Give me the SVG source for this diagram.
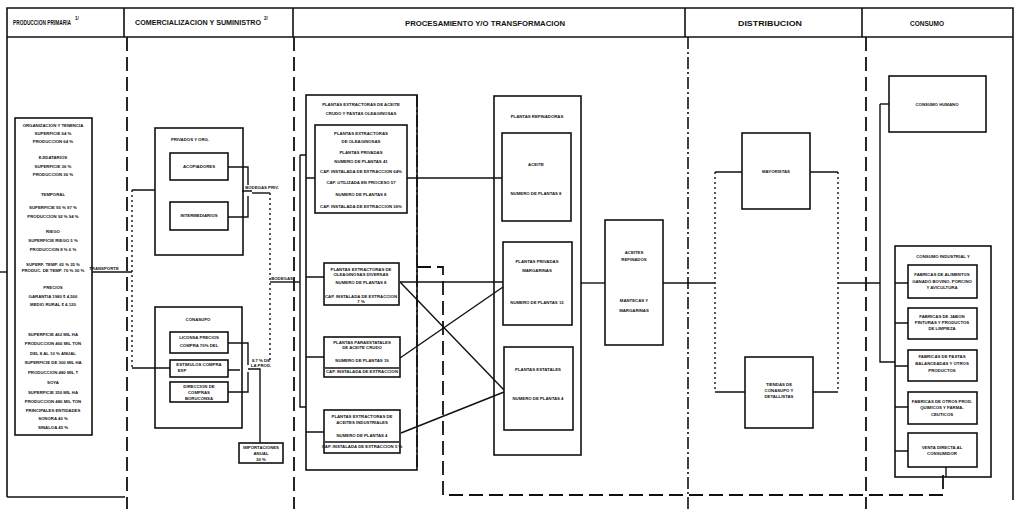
<svg xmlns="http://www.w3.org/2000/svg" width="1020" height="509" viewBox="0 0 1020 509">
<style>
.b{fill:none;stroke:#111;stroke-width:1.6}
.l{fill:none;stroke:#111;stroke-width:1.4}
.d{fill:none;stroke:#111;stroke-width:1.8;stroke-dasharray:14 6}
.dd{fill:none;stroke:#111;stroke-width:1.6;stroke-dasharray:12 3 2 3}
.o{fill:none;stroke:#111;stroke-width:1.4;stroke-dasharray:2 3}
.t{font-family:"Liberation Sans",Arial,sans-serif;font-weight:bold;font-size:4.3px;fill:#111;text-anchor:middle}
.h{font-family:"Liberation Sans",Arial,sans-serif;font-weight:bold;font-size:7px;fill:#111}
.s{font-family:"Liberation Sans",Arial,sans-serif;font-weight:bold;font-size:4.5px;fill:#111}
</style>
<rect width="1020" height="509" fill="#fff"/>
<g id="frame">
<path class="b" d="M7,497 V8 H1013 V500" stroke-width="2"/>
<path class="b" d="M7,497 H125" stroke-width="2"/>
<path class="b" d="M7,37 H1013"/>
<path class="b" d="M124,8 V37 M293,8 V37 M685,8 V37 M862,8 V37"/>
<path class="d" d="M127,37 V509 M294,37 V509 M866,37 V509"/>
<path class="dd" d="M688,37 V509"/>
<text class="h" x="13" y="25" textLength="58" lengthAdjust="spacingAndGlyphs">PRODUCCION PRIMARIA</text>
<text class="s" x="75" y="20">1/</text>
<text class="h" x="135" y="25" textLength="126" lengthAdjust="spacingAndGlyphs">COMERCIALIZACION Y SUMINISTRO</text>
<text class="s" x="264" y="20">2/</text>
<text class="h" x="405" y="26" textLength="160" lengthAdjust="spacingAndGlyphs">PROCESAMIENTO Y/O TRANSFORMACION</text>
<text class="h" x="738" y="26" textLength="64" lengthAdjust="spacingAndGlyphs">DISTRIBUCION</text>
<text class="h" x="910" y="26" textLength="34" lengthAdjust="spacingAndGlyphs">CONSUMO</text>
</g>
<g id="produccion">
<rect class="b" x="15" y="118" width="77" height="317"/>
<text class="t" x="53" y="127">ORGANIZACION Y TENENCIA</text>
<text class="t" x="53" y="135">SUPERFICIE 64 %</text>
<text class="t" x="53" y="143">PRODUCCION 64 %</text>
<text class="t" x="53" y="159">EJIDATARIOS</text>
<text class="t" x="53" y="168">SUPERFICIE 36 %</text>
<text class="t" x="53" y="176">PRODUCCION 36 %</text>
<text class="t" x="53" y="196">TEMPORAL</text>
<text class="t" x="53" y="209">SUPERFICIE 95 % 97 %</text>
<text class="t" x="53" y="218">PRODUCCION 92 % 94 %</text>
<text class="t" x="53" y="233">RIEGO</text>
<text class="t" x="53" y="242">SUPERFICIE RIEGO 5 %</text>
<text class="t" x="53" y="251">PRODUCCION 8 % 6 %</text>
<text class="t" x="53" y="266">SUPERF. TEMP. 65 % 35 %</text>
<text class="t" x="53" y="272">PRODUC. DE TEMP. 70 % 30 %</text>
<text class="t" x="53" y="289">PRECIOS</text>
<text class="t" x="53" y="298">GARANTIA 1980 $ 4,500</text>
<text class="t" x="53" y="306">MEDIO RURAL $ 4,120</text>
<text class="t" x="53" y="336">SUPERFICIE 462 MIL HA</text>
<text class="t" x="53" y="345">PRODUCCION 460 MIL TON</text>
<text class="t" x="53" y="355">DEL 8 AL 10 % ANUAL</text>
<text class="t" x="53" y="364">SUPERFICIE DE 300 MIL HA</text>
<text class="t" x="53" y="374">PRODUCCION 480 MIL T</text>
<text class="t" x="53" y="384">SOYA</text>
<text class="t" x="53" y="394">SUPERFICIE 350 MIL HA</text>
<text class="t" x="53" y="403">PRODUCCION 480 MIL TON</text>
<text class="t" x="53" y="412">PRINCIPALES ENTIDADES</text>
<text class="t" x="53" y="420">SONORA 40 %</text>
<text class="t" x="53" y="429">SINALOA 45 %</text>
</g>
<g id="bodegas">
<rect class="b" x="155" y="128" width="88" height="127"/>
<text class="t" x="190" y="141">PRIVADOS Y ORG.</text>
<rect class="b" x="170" y="153" width="58" height="27"/>
<text class="t" x="199" y="168">ACOPIADORES</text>
<rect class="b" x="170" y="202" width="58" height="28"/>
<text class="t" x="199" y="217">INTERMEDIARIOS</text>
</g>
<g id="conasupo">
<rect class="b" x="155" y="307" width="87" height="121"/>
<text class="t" x="198" y="321">CONASUPO</text>
<rect class="b" x="170" y="332" width="58" height="21"/>
<text class="t" x="199" y="339">LICONSA PRECIOS</text>
<text class="t" x="199" y="347">COMPRA 70% DEL</text>
<rect class="b" x="170" y="360" width="58" height="17"/>
<text class="t" x="199" y="366">ESTIMULOS COMPRA</text>
<text class="t" x="182" y="372">EXP</text>
<rect class="b" x="170" y="382" width="58" height="20"/>
<text class="t" x="199" y="388">DIRECCION DE</text>
<text class="t" x="199" y="394">COMPRAS</text>
<text class="t" x="199" y="400">BORUCONSA</text>
</g>
<g id="importacion">
<rect class="b" x="239" y="443" width="44" height="20"/>
<text class="t" x="261" y="449">IMPORTACIONES</text>
<text class="t" x="261" y="455">ANUAL</text>
<text class="t" x="261" y="461">30 %</text>
</g>
<g id="extractoras">
<rect class="b" x="306" y="95" width="111" height="375"/>
<text class="t" x="361" y="106">PLANTAS EXTRACTORAS DE ACEITE</text>
<text class="t" x="361" y="115">CRUDO Y PASTAS OLEAGINOSAS</text>
<rect class="b" x="315" y="125" width="92" height="88"/>
<text class="t" x="361" y="135">PLANTAS EXTRACTORAS</text>
<text class="t" x="361" y="143">DE OLEAGINOSAS</text>
<text class="t" x="361" y="154">PLANTAS PRIVADAS</text>
<text class="t" x="361" y="163">NUMERO DE PLANTAS 41</text>
<text class="t" x="361" y="173">CAP. INSTALADA DE EXTRACCION 64%</text>
<text class="t" x="361" y="184">CAP. UTILIZADA EN PROCESO 57</text>
<text class="t" x="361" y="196">NUMERO DE PLANTAS 8</text>
<text class="t" x="361" y="208">CAP. INSTALADA DE EXTRACCION 36%</text>
<rect class="b" x="324" y="263" width="75" height="42"/>
<text class="t" x="361" y="271">PLANTAS EXTRACTORAS DE</text>
<text class="t" x="361" y="276">OLEAGINOSAS DIVERSAS</text>
<text class="t" x="361" y="284">NUMERO DE PLANTAS 8</text>
<text class="t" x="361" y="298">CAP. INSTALADA DE EXTRACCION</text>
<text class="t" x="361" y="303">7 %</text>
<rect class="b" x="324" y="337" width="76" height="40"/>
<text class="t" x="362" y="344">PLANTAS PARAESTATALES</text>
<text class="t" x="362" y="349">DE ACEITE CRUDO</text>
<text class="t" x="362" y="362">NUMERO DE PLANTAS 19</text>
<path class="l" d="M325,368 H399"/>
<text class="t" x="362" y="373">CAP. INSTALADA DE EXTRACCION</text>
<rect class="b" x="324" y="410" width="76" height="43"/>
<text class="t" x="362" y="418">PLANTAS EXTRACTORAS DE</text>
<text class="t" x="362" y="424">ACEITES INDUSTRIALES</text>
<text class="t" x="362" y="437">NUMERO DE PLANTAS 4</text>
<path class="l" d="M325,442 H399"/>
<text class="t" x="362" y="448">CAP. INSTALADA DE EXTRACCION 5 %</text>
</g>
<g id="refinadoras">
<rect class="b" x="494" y="96" width="87" height="359"/>
<text class="t" x="537" y="118">PLANTAS REFINADORAS</text>
<rect class="b" x="502" y="133" width="69" height="88"/>
<text class="t" x="536" y="166">ACEITE</text>
<text class="t" x="536" y="195">NUMERO DE PLANTAS 8</text>
<rect class="b" x="503" y="242" width="69" height="83"/>
<text class="t" x="537" y="263">PLANTAS PRIVADAS</text>
<text class="t" x="537" y="272">MARGARINAS</text>
<text class="t" x="537" y="304">NUMERO DE PLANTAS 12</text>
<rect class="b" x="504" y="347" width="69" height="83"/>
<text class="t" x="538" y="371">PLANTAS ESTATALES</text>
<text class="t" x="538" y="400">NUMERO DE PLANTAS 4</text>
</g>
<g id="aceites">
<rect class="b" x="605" y="220" width="58" height="125"/>
<text class="t" x="634" y="254">ACEITES</text>
<text class="t" x="634" y="261">REFINADOS</text>
<text class="t" x="634" y="302">MANTECAS Y</text>
<text class="t" x="634" y="312">MARGARINAS</text>
</g>
<g id="mayoristas">
<rect class="b" x="742" y="133" width="68" height="76"/>
<text class="t" x="776" y="173">MAYORISTAS</text>
</g>
<g id="tiendas">
<rect class="b" x="745" y="357" width="68" height="71"/>
<text class="t" x="779" y="386">TIENDAS DE</text>
<text class="t" x="779" y="392">CONASUPO Y</text>
<text class="t" x="779" y="398">DETALLISTAS</text>
</g>
<g id="humano">
<rect class="b" x="889" y="76" width="97" height="56"/>
<text class="t" x="937" y="106">CONSUMO HUMANO</text>
</g>
<g id="industrial">
<rect class="b" x="895" y="246" width="96" height="231"/>
<text class="t" x="943" y="258">CONSUMO INDUSTRIAL Y</text>
<rect class="b" x="908" y="265" width="69" height="33"/>
<text class="t" x="942" y="276">FABRICAS DE ALIMENTOS</text>
<text class="t" x="942" y="283">GANADO BOVINO, PORCINO</text>
<text class="t" x="942" y="289">Y AVICULTURA</text>
<rect class="b" x="908" y="308" width="69" height="31"/>
<text class="t" x="942" y="318">FABRICAS DE JABON</text>
<text class="t" x="942" y="324">PINTURAS Y PRODUCTOS</text>
<text class="t" x="942" y="330">DE LIMPIEZA</text>
<rect class="b" x="908" y="350" width="69" height="31"/>
<text class="t" x="942" y="358">FABRICAS DE PASTAS</text>
<text class="t" x="942" y="365">BALANCEADAS Y OTROS</text>
<text class="t" x="942" y="372">PRODUCTOS</text>
<rect class="b" x="908" y="392" width="69" height="32"/>
<text class="t" x="942" y="403">FABRICAS DE OTROS PROD.</text>
<text class="t" x="942" y="409">QUIMICOS Y FARMA-</text>
<text class="t" x="942" y="416">CEUTICOS</text>
<rect class="b" x="908" y="433" width="69" height="34"/>
<text class="t" x="942" y="449">VENTA DIRECTA AL</text>
<text class="t" x="942" y="455">CONSUMIDOR</text>
</g>
<g id="connectors">
<path class="l" d="M0,272 H7"/>
<path class="l" d="M92,272 H127"/>
<text class="t" x="104" y="270" font-size="3.5">TRANSPORTE</text>
<path class="o" d="M132,190 V368"/>
<path class="l" d="M132,190 H155 M132,368 H170 M127,272 H132"/>
<path class="l" d="M228,167 H248 V185 M228,217 H248 V196 M242,191 H252"/>
<text class="t" x="262" y="189" font-size="3.5">BODEGAS PRIV.</text>
<path class="l" d="M252,193 H270"/>
<path class="o" d="M270,193 V363"/>
<path class="l" d="M270,282 H300"/>
<text class="t" x="282" y="280" font-size="3.5">BODEGAS</text>
<path class="l" d="M228,343 H248 V365 M228,392 H248 V372 M228,370 H240"/>
<text class="t" x="261" y="362" font-size="3.5">8.7 % DE</text>
<text class="t" x="261" y="367" font-size="3.5">LA PROD.</text>
<path class="l" d="M248,369 H260 V443"/>
<path class="l" d="M300,155 V407 H306 M300,155 H306"/>
<path class="l" d="M306,178 H315 M306,277 H324 M306,357 H324 M306,432 H324"/>
<path class="dd" d="M417,95 V470"/>
<path class="d" d="M417,267 H443 V495 H943 V470"/>
<path class="l" d="M407,178 H502"/>
<path class="l" d="M400,282 H503"/>
<path class="l" d="M400,282 L504,390"/>
<path class="l" d="M400,358 L503,287"/>
<path class="l" d="M401,433 L504,392"/>
<path class="l" d="M581,283 H605"/>
<path class="l" d="M663,283 H715"/>
<path class="o" d="M715,172 V392"/>
<path class="l" d="M715,172 H742 M715,392 H745"/>
<path class="l" d="M810,172 H838 M813,392 H838"/>
<path class="o" d="M838,172 V392"/>
<path class="l" d="M838,283 H880"/>
<path class="l" d="M880,104 H889"/>
<path class="l" d="M880,104 V362 H895"/>
<path class="l" d="M895,283 H908 M895,323 H908 M895,366 H908 M895,407 H908 M895,451 H908"/>
<path class="l" d="M946,467 V477"/>
</g>
</svg>
